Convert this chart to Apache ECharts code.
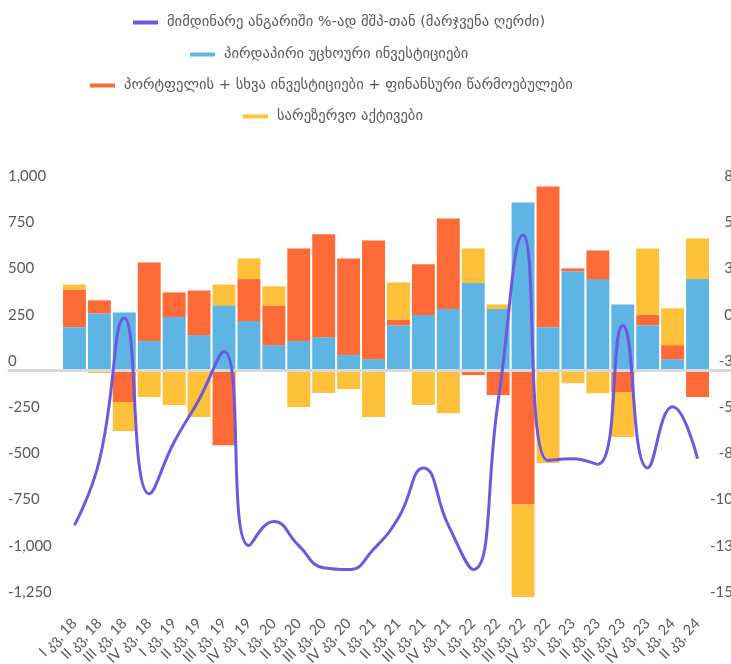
<!DOCTYPE html>
<html>
<head>
<meta charset="utf-8">
<script src="https://cdn.jsdelivr.net/npm/echarts@6/dist/echarts.min.js"></script>
<style>
  html, body { margin: 0; padding: 0; background: #fff; }
  #chart { width: 731px; height: 664px; }
</style>
</head>
<body>
<div id="chart"></div>
<script>
// quarters I 18 .. II 24
const quarters = [
  "I კვ, 18", "II კვ, 18", "III კვ, 18", "IV კვ, 18",
  "I კვ, 19", "II კვ, 19", "III კვ, 19", "IV კვ, 19",
  "I კვ, 20", "II კვ, 20", "III კვ, 20", "IV კვ, 20",
  "I კვ, 21", "II კვ, 21", "III კვ, 21", "IV კვ, 21",
  "I კვ, 22", "II კვ, 22", "III კვ, 22", "IV კვ, 22",
  "I კვ, 23", "II კვ, 23", "III კვ, 23", "IV კვ, 23",
  "I კვ, 24", "II კვ, 24"
];

// mln USD, left axis
const fdi = [231, 305, 311, 156, 286, 188, 349, 264, 134, 156, 177, 80, 58,
  242, 297, 329, 470, 329, 906, 231, 534, 491, 354, 242, 58, 491];
const portfolio = [204, 71, -174, 425, 133, 242, -407, 227, 215, 501, 556, 523, 642,
  31, 274, 490, -28, -136, -727, 761, 15, 155, -120, 55, 76, -147];
const reserves = [27, -17, -157, -147, -190, -255, 113, 112, 103, -201, -125, -104, -255,
  200, -190, -234, 187, 25, -502, -504, -72, -126, -243, 360, 199, 220];

// current account, % of GDP, right axis
const currentAccount = [-10.9, -7.4, 0.3, -9.2, -6.4, -4.1, -1.5, -12.0, -10.7, -12.0, -13.2, -13.3, -12.2,
  -10.5, -7.8, -10.9, -13.3, -4.2, 4.8, -7.4, -7.3, -7.6, -0.1, -7.8, -4.5, -7.3];

const leftTicks = { min: -1250, max: 1000, step: 250 };
const rightTicks = { min: -15, max: 7.5, step: 2.5 };

const names = [
  "მიმდინარე ანგარიში %-ად მშპ-თან (მარჯვენა ღერძი)",
  "პირდაპირი უცხოური ინვესტიციები",
  "პორტფელის + სხვა ინვესტიციები + ფინანსური წარმოებულები",
  "სარეზერვო აქტივები"
];
const colors = ["#6b5ae0", "#5eb5e4", "#ff6b37", "#ffc13a"];

const grey = "#595959";
const numFont = "Lato, 'DejaVu Sans', sans-serif";
const geoFont = "'DejaVu Sans', sans-serif";

const legendLeft = [133, 190, 90, 243];
const legendMid = [20, 52, 83, 114];

const chart = echarts.init(document.getElementById("chart"));

chart.setOption({
  animation: false,
  color: colors,
  legend: names.map((n, i) => ({
    data: [n],
    left: legendLeft[i],
    top: legendMid[i] - 5,
    padding: 0,
    icon: "rect",
    itemWidth: 25,
    itemHeight: 4,
    selectedMode: false,
    textStyle: { color: grey, fontSize: 14.6, fontFamily: geoFont, padding: [0, 0, 0, 4] }
  })),
  // labels hang off the edges in the original, so don't let the grid shrink
  grid: [
    { left: 62, right: 21, top: 185, bottom: 63, outerBoundsMode: "none" },
    { left: 9, right: 0, top: 185, bottom: 63, outerBoundsMode: "none" }
  ],
  xAxis: [
    {
      type: "category",
      data: quarters,
      gridIndex: 0,
      axisLine: { show: false, onZero: false },
      axisTick: { show: false },
      axisLabel: {
        interval: 0,
        rotate: 45,
        margin: 20,
        color: grey,
        fontSize: 14.5,
        fontFamily: numFont
      }
    },
    {
      // zero line, runs wider than the bars as in the original
      type: "category",
      data: quarters,
      gridIndex: 1,
      z: 5,
      axisLine: { show: true, onZero: true, lineStyle: { color: "#d9d9d9", width: 3 } },
      axisTick: { show: false },
      axisLabel: { show: false }
    }
  ],
  yAxis: [
    {
      type: "value",
      gridIndex: 0,
      min: leftTicks.min,
      max: leftTicks.max,
      interval: leftTicks.step,
      splitLine: { show: false },
      axisLine: { show: false },
      axisLabel: {
        color: grey,
        fontSize: 15,
        fontFamily: numFont,
        align: "left",
        verticalAlign: "bottom",
        lineHeight: 18,
        margin: 54,
        formatter: v => v.toLocaleString("en-US")
      }
    },
    {
      type: "value",
      gridIndex: 0,
      position: "right",
      min: rightTicks.min,
      max: rightTicks.max,
      interval: rightTicks.step,
      splitLine: { show: false },
      axisLine: { show: false },
      axisLabel: {
        color: grey,
        fontSize: 15,
        fontFamily: numFont,
        align: "right",
        verticalAlign: "bottom",
        lineHeight: 18,
        margin: 23,
        formatter: v => String(Math.sign(v) * Math.round(Math.abs(v)))
      }
    },
    {
      type: "value",
      gridIndex: 1,
      min: leftTicks.min,
      max: leftTicks.max,
      show: false
    }
  ],
  series: [
    {
      name: names[0],
      type: "line",
      yAxisIndex: 1,
      data: currentAccount,
      smooth: true,
      symbol: "none",
      z: 10,
      lineStyle: { width: 3, color: colors[0] }
    },
    {
      name: names[1],
      type: "bar",
      stack: "fin",
      data: fdi,
      barCategoryGap: "8%",
      itemStyle: { color: colors[1] }
    },
    {
      name: names[2],
      type: "bar",
      stack: "fin",
      data: portfolio,
      itemStyle: { color: colors[2] }
    },
    {
      name: names[3],
      type: "bar",
      stack: "fin",
      data: reserves,
      itemStyle: { color: colors[3] }
    }
  ]
});
</script>
</body>
</html>
